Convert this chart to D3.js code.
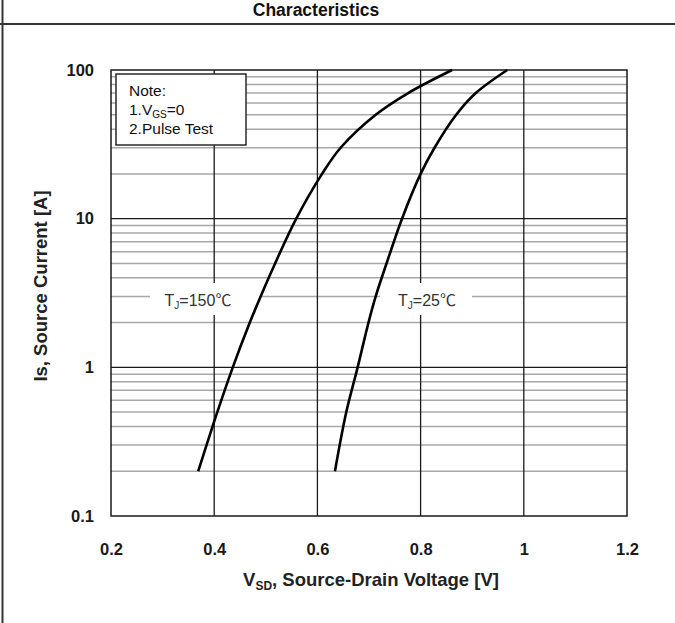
<!DOCTYPE html>
<html>
<head>
<meta charset="utf-8">
<script src="https://cdn.jsdelivr.net/npm/d3@7"></script>
<style>
  html, body { margin: 0; padding: 0; background: #fff; }
  svg { display: block; }
</style>
</head>
<body>
<svg id="chart" width="675" height="623"></svg>
<script>
// Source-drain diode forward characteristics: Is vs VSD at two junction temperatures
const xTicks = [0.2, 0.4, 0.6, 0.8, 1, 1.2];
const xTickLabels = ["0.2", "0.4", "0.6", "0.8", "1", "1.2"];
const yTicks = [0.1, 1, 10, 100];
const yTickLabels = ["0.1", "1", "10", "100"];

// source current samples shared by both curves [A]
const isSamples = [0.2, 0.5, 1, 2, 3, 5, 10, 20, 30, 50, 70, 100];
// TJ = 150 °C, forward voltage [V]
const vsd150 = [0.369, 0.406, 0.436, 0.469, 0.490, 0.518, 0.559, 0.609, 0.645, 0.713, 0.776, 0.861];
// TJ = 25 °C, forward voltage [V]
const vsd25  = [0.634, 0.656, 0.678, 0.699, 0.713, 0.734, 0.764, 0.800, 0.827, 0.869, 0.907, 0.968];

const seriesLabels = ["T", "J", "=150℃", "=25℃"];

const svg = d3.select("#chart");
const W = 675, H = 623;
const plot = { left: 111, right: 627, top: 70, bottom: 516 };

const x = d3.scaleLinear().domain([0.2, 1.2]).range([plot.left, plot.right]);
const y = d3.scaleLog().domain([0.1, 100]).range([plot.bottom, plot.top]);

// page frame
svg.append("line").attr("x1", 2.5).attr("x2", 2.5).attr("y1", 0).attr("y2", H)
  .attr("stroke", "#333").attr("stroke-width", 2);
svg.append("line").attr("x1", 0).attr("x2", W).attr("y1", 24).attr("y2", 24)
  .attr("stroke", "#333").attr("stroke-width", 2);
svg.append("text").attr("x", 316).attr("y", 16)
  .attr("text-anchor", "middle")
  .attr("font-family", "'Liberation Sans', Arial, sans-serif")
  .attr("font-weight", "bold").attr("font-size", 17.5).attr("fill", "#111")
  .text("Characteristics");

// minor horizontal grid (2..9 in every decade)
const minor = [];
[0.1, 1, 10].forEach(d => { for (let k = 2; k <= 9; k++) minor.push(d * k); });
svg.append("g").selectAll("line").data(minor).join("line")
  .attr("x1", plot.left).attr("x2", plot.right)
  .attr("y1", d => y(d)).attr("y2", d => y(d))
  .attr("stroke", "#a8a8a8").attr("stroke-width", 1.5);

// major grid
svg.append("g").selectAll("line").data(xTicks.slice(1, -1)).join("line")
  .attr("x1", d => x(d)).attr("x2", d => x(d))
  .attr("y1", plot.top).attr("y2", plot.bottom)
  .attr("stroke", "#1a1a1a").attr("stroke-width", 1.3);
svg.append("g").selectAll("line").data(yTicks.slice(1, -1)).join("line")
  .attr("x1", plot.left).attr("x2", plot.right)
  .attr("y1", d => y(d)).attr("y2", d => y(d))
  .attr("stroke", "#1a1a1a").attr("stroke-width", 1.3);

// plot frame
svg.append("rect")
  .attr("x", plot.left).attr("y", plot.top)
  .attr("width", plot.right - plot.left).attr("height", plot.bottom - plot.top)
  .attr("fill", "none").attr("stroke", "#1a1a1a").attr("stroke-width", 1.5);

// axes (labels only, the frame carries the lines)
const tickFont = "'Liberation Sans', Arial, sans-serif";
const xAxis = svg.append("g").attr("transform", `translate(0,${plot.bottom})`)
  .call(d3.axisBottom(x).tickValues(xTicks).tickSize(0).tickPadding(27)
    .tickFormat((d, i) => xTickLabels[i]));
const yAxis = svg.append("g").attr("transform", `translate(${plot.left},0)`)
  .call(d3.axisLeft(y).tickValues(yTicks).tickSize(0).tickPadding(17)
    .tickFormat((d, i) => yTickLabels[i]));
[xAxis, yAxis].forEach(a => {
  a.select(".domain").remove();
  a.selectAll("text").attr("font-family", tickFont).attr("font-weight", "bold")
    .attr("font-size", 16.5).attr("fill", "#1a1a1a");
});

// axis titles
const xt = svg.append("text").attr("x", 371).attr("y", 586)
  .attr("text-anchor", "middle").attr("font-family", tickFont)
  .attr("font-weight", "bold").attr("font-size", 18.5).attr("fill", "#222");
xt.append("tspan").text("V");
xt.append("tspan").attr("font-size", 12).attr("dy", 4).text("SD");
xt.append("tspan").attr("dy", -4).text(", Source-Drain Voltage [V]");

svg.append("text")
  .attr("transform", "translate(47,286) rotate(-90)")
  .attr("text-anchor", "middle").attr("font-family", tickFont)
  .attr("font-weight", "bold").attr("font-size", 18.5).attr("fill", "#222")
  .text("Is, Source Current [A]");

// curve labels with white backing
const labelFont = "'Liberation Sans', 'Noto Sans CJK SC', sans-serif";
function curveLabel(cx, left, right, tail) {
  svg.append("rect").attr("x", left).attr("y", 283)
    .attr("width", right - left).attr("height", 32).attr("fill", "#fff");
  const t = svg.append("text").attr("x", cx).attr("y", 306)
    .attr("text-anchor", "middle").attr("font-family", labelFont)
    .attr("font-size", 16).attr("fill", "#333");
  t.append("tspan").text(seriesLabels[0]);
  t.append("tspan").attr("font-size", 10).attr("dy", 3).text(seriesLabels[1]);
  t.append("tspan").attr("dy", -3).text(tail);
}
curveLabel(198, 150, 262, seriesLabels[2]);
curveLabel(427, 380, 472, seriesLabels[3]);

// curves
const line = d3.line()
  .x(d => x(d[0])).y(d => y(d[1]))
  .curve(d3.curveCatmullRom.alpha(0.5));
[vsd150, vsd25].forEach(vs => {
  svg.append("path").datum(vs.map((v, i) => [v, isSamples[i]]))
    .attr("d", line).attr("fill", "none")
    .attr("stroke", "#000").attr("stroke-width", 2.6)
    .attr("stroke-linecap", "butt");
});

// note box
svg.append("rect").attr("x", 116).attr("y", 74).attr("width", 130).attr("height", 71)
  .attr("fill", "#fff").attr("stroke", "#1a1a1a").attr("stroke-width", 1.4);
const noteFont = "'Liberation Sans', Arial, sans-serif";
const note = svg.append("g").attr("font-family", noteFont).attr("font-size", 15.5).attr("fill", "#111");
note.append("text").attr("x", 129).attr("y", 96).text("Note:");
const n1 = note.append("text").attr("x", 129).attr("y", 115);
n1.append("tspan").text("1.V");
n1.append("tspan").attr("font-size", 10).attr("dy", 3).text("GS");
n1.append("tspan").attr("dy", -3).text("=0");
note.append("text").attr("x", 129).attr("y", 134).text("2.Pulse Test");
</script>
</body>
</html>
